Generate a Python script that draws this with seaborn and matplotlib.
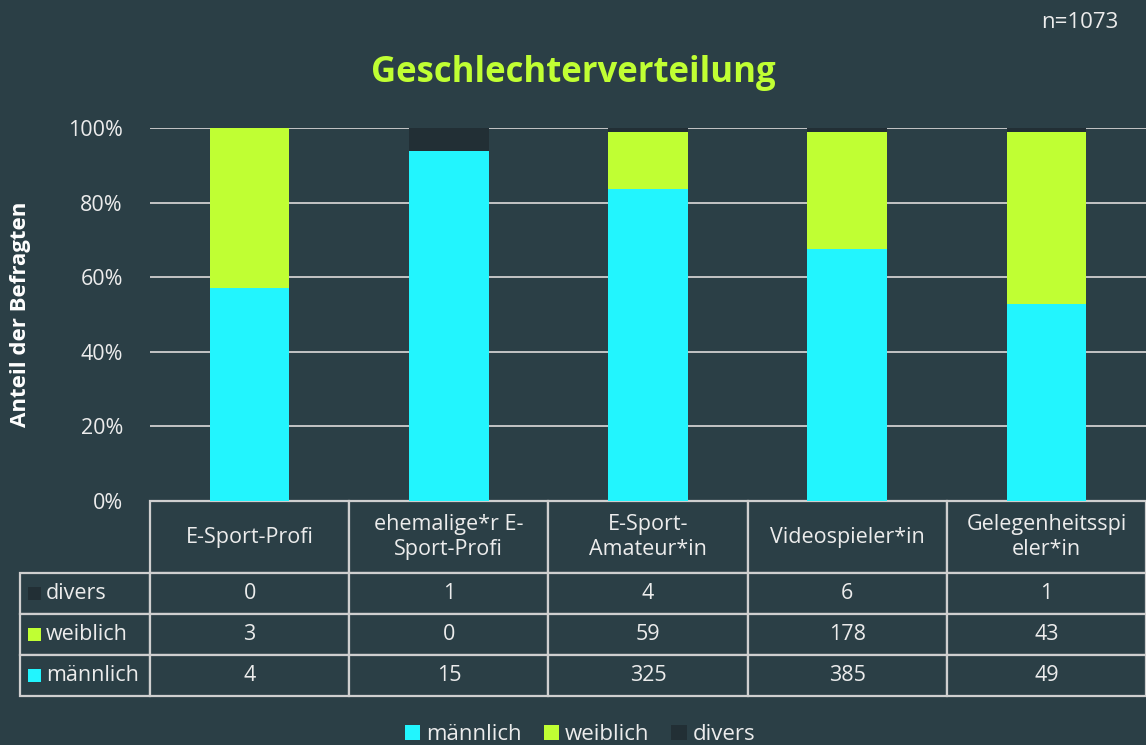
import pandas as pd
import matplotlib.pyplot as plt
import seaborn as sns
import matplotlib.ticker as ticker
from matplotlib.patches import Rectangle, Patch

categories = ["E-Sport-Profi", "ehemalige*r E-Sport-Profi", "E-Sport-Amateur*in",
              "Videospieler*in", "Gelegenheitsspieler*in"]
header_labels = ["E-Sport-Profi", "ehemalige*r E-\nSport-Profi", "E-Sport-\nAmateur*in",
                 "Videospieler*in", "Gelegenheitsspi\neler*in"]
maennlich = [4, 15, 325, 385, 49]
weiblich = [3, 0, 59, 178, 43]
divers = [0, 1, 4, 6, 1]

BG = "#2b3f46"
CYAN = "#22f5fe"
LIME = "#c0ff33"
DARK = "#222f35"
LINE = "#cfcfcf"
TEXT = "#ececec"

sns.set_style("white")
plt.rcParams["font.family"] = ["Open Sans", "DejaVu Sans"]

df = pd.DataFrame({"Gruppe": categories, "m": maennlich, "w": weiblich, "d": divers})
total = df["m"] + df["w"] + df["d"]
df["p_m"] = df["m"] / total
df["p_mw"] = (df["m"] + df["w"]) / total
df["p_all"] = total / total

fig = plt.figure(figsize=(11.46, 7.45), dpi=100, facecolor=BG)
AX_W, AX_H = 996, 373  # axes size in pixels
ax = fig.add_axes([150 / 1146, (745 - 501) / 745, AX_W / 1146, AX_H / 745])
ax.set_facecolor(BG)

# stacked 100% bars: draw cumulative layers from top down
bar_kw = dict(x="Gruppe", width=0.4, saturation=1, errorbar=None, linewidth=0, edgecolor="none", ax=ax)
sns.barplot(data=df, y="p_all", color=DARK, **bar_kw)
sns.barplot(data=df, y="p_mw", color=LIME, **bar_kw)
sns.barplot(data=df, y="p_m", color=CYAN, **bar_kw)

ax.set_ylim(0, 1)
ax.set_xlim(-0.5, len(categories) - 0.5)
ax.yaxis.set_major_locator(ticker.MultipleLocator(0.2))
ax.yaxis.set_major_formatter(ticker.FuncFormatter(lambda v, _: f"{int(round(v * 100))}%"))
ax.yaxis.grid(True, color=LINE, linewidth=1.3)
ax.set_axisbelow(True)
ax.tick_params(axis="y", length=0, labelsize=15.5, labelcolor=TEXT, pad=19.5)
ax.set_xticks([])
ax.set_xlabel("")
ax.set_ylabel("Anteil der Befragten", fontsize=16, fontweight="bold", color="white")
ax.yaxis.set_label_coords(-119 / AX_W, 0.5)
for s in ax.spines.values():
    s.set_visible(False)

# data table under the bars
row_names = ["divers", "weiblich", "männlich"]
row_colors = [DARK, LIME, CYAN]
cell_text = [[str(v) for v in divers], [str(v) for v in weiblich], [str(v) for v in maennlich]]
tbl = ax.table(cellText=cell_text, rowLabels=row_names, colLabels=header_labels,
               cellLoc="center", rowLoc="left", loc="bottom")
tbl.AXESPAD = 0
tbl.auto_set_font_size(False)
tbl.set_fontsize(15.5)
HEAD_H, ROW_H, LAB_W = 72, 41, 135
for (r, c), cell in tbl.get_celld().items():
    cell.set_edgecolor(LINE)
    cell.set_linewidth(1.6)
    cell.set_facecolor(BG)
    cell.get_text().set_color(TEXT)
    cell.set_width((LAB_W if c == -1 else AX_W / len(categories)) / AX_W)
    cell.set_height((HEAD_H if r == 0 else ROW_H) / AX_H)
    if c == -1:
        cell.PAD = 27 / LAB_W

# colour squares in the row label cells
for i, col in enumerate(row_colors):
    yc = (-HEAD_H - ROW_H * i - ROW_H / 2) / AX_H
    ax.add_patch(Rectangle((-122 / AX_W, yc - 6.5 / AX_H), 13 / AX_W, 13 / AX_H,
                           transform=ax.transAxes, facecolor=col, edgecolor="none", clip_on=False))

fig.text(0.5, 0.902, "Geschlechterverteilung", ha="center", va="center",
         fontsize=25, fontweight="bold", color=LIME)
fig.text(0.976, 0.97, "n=1073", ha="right", va="center", fontsize=16, color=TEXT)

handles = [Patch(facecolor=CYAN, edgecolor="none", label="männlich"),
           Patch(facecolor=LIME, edgecolor="none", label="weiblich"),
           Patch(facecolor=DARK, edgecolor="none", label="divers")]
fig.legend(handles=handles, loc="center", bbox_to_anchor=(0.506, 0.014), ncol=3, frameon=False,
           fontsize=16, labelcolor=TEXT, handlelength=0.7, handleheight=0.7,
           handletextpad=0.25, columnspacing=1.0)

fig.savefig("out.png", dpi=100, facecolor=BG)
